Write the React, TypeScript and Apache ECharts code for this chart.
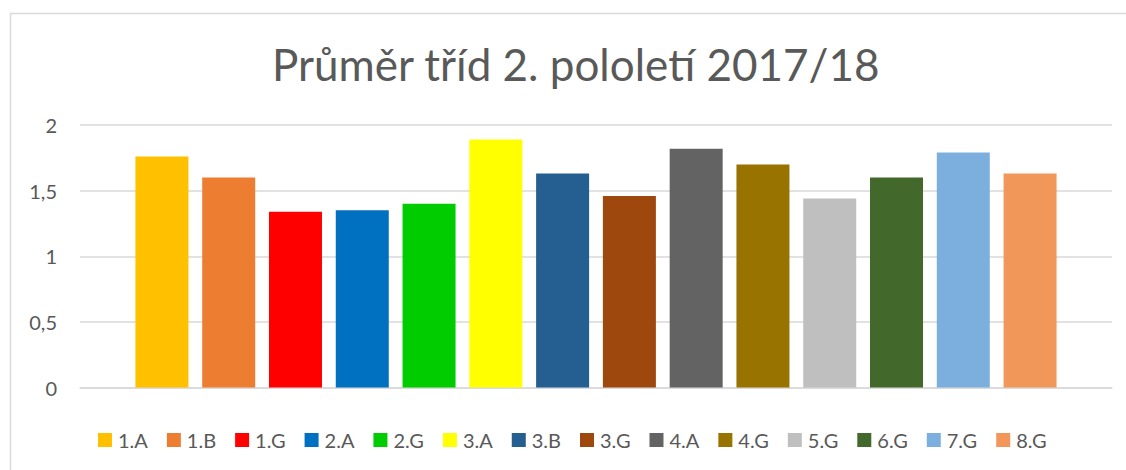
import React, { useEffect, useRef } from "react";
import * as echarts from "echarts";

const classes = ["1.A", "1.B", "1.G", "2.A", "2.G", "3.A", "3.B", "3.G", "4.A", "4.G", "5.G", "6.G", "7.G", "8.G"];
const averages = [1.76, 1.6, 1.34, 1.35, 1.4, 1.89, 1.63, 1.46, 1.82, 1.7, 1.44, 1.6, 1.79, 1.63];
const colors = ["#FFC000", "#ED7D31", "#FF0000", "#0070C0", "#00CC00", "#FFFF00", "#255E91", "#9E480E", "#636363", "#997300", "#BFBFBF", "#43682B", "#7CAFDD", "#F1975A"];
const titleText = "Průměr tříd 2. pololetí 2017/18";

const FONT = "Lato, 'Noto Sans', sans-serif";
const TEXT = "#595959";

export default function App() {
  const ref = useRef<HTMLDivElement>(null);
  useEffect(() => {
    if (!ref.current) return;
    const chart = echarts.init(ref.current, null, { renderer: "svg" });
    chart.setOption({
      animation: false,
      backgroundColor: "#ffffff",
      textStyle: { fontFamily: FONT, color: TEXT },
      title: {
        text: titleText,
        left: 272,
        top: 42,
        padding: 0,
        textStyle: { fontFamily: FONT, fontSize: 44, fontWeight: "normal", color: TEXT },
      },
      graphic: [
        {
          type: "rect",
          shape: { x: 10.5, y: 13.5, width: 1130, height: 480 },
          style: { fill: "none", stroke: "#d9d9d9", lineWidth: 1.5 },
          silent: true,
        },
      ],
      legend: {
        left: 98,
        top: 430,
        padding: 0,
        itemWidth: 14,
        itemHeight: 14,
        itemGap: 19,
        icon: "rect",
        textStyle: { fontFamily: FONT, fontSize: 20, color: TEXT, padding: [0, 0, 0, 1] },
        data: classes,
      },
      grid: { left: 80, right: 14, top: 125, bottom: 82.5, containLabel: false },
      xAxis: {
        type: "category",
        data: [""],
        axisLine: { show: true, lineStyle: { color: "#d9d9d9", width: 1.5 } },
        axisTick: { show: false },
        axisLabel: { show: false },
      },
      yAxis: {
        type: "value",
        min: 0,
        max: 2,
        interval: 0.5,
        axisLine: { show: false },
        axisTick: { show: false },
        splitLine: { lineStyle: { color: "#d9d9d9", width: 1.5 } },
        axisLabel: {
          margin: 23,
          fontFamily: FONT,
          fontSize: 20,
          color: TEXT,
          formatter: (v: number) => String(v).replace(".", ","),
        },
      },
      series: classes.map((name, i) => ({
        name,
        type: "bar",
        data: [averages[i]],
        barWidth: 53,
        barGap: "26%",
        itemStyle: { color: colors[i] },
      })),
    });
    return () => chart.dispose();
  }, []);
  return (
    <div
      ref={ref}
      style={{ position: "fixed", left: 0, top: 0, width: 1126, height: 470 }}
    />
  );
}
